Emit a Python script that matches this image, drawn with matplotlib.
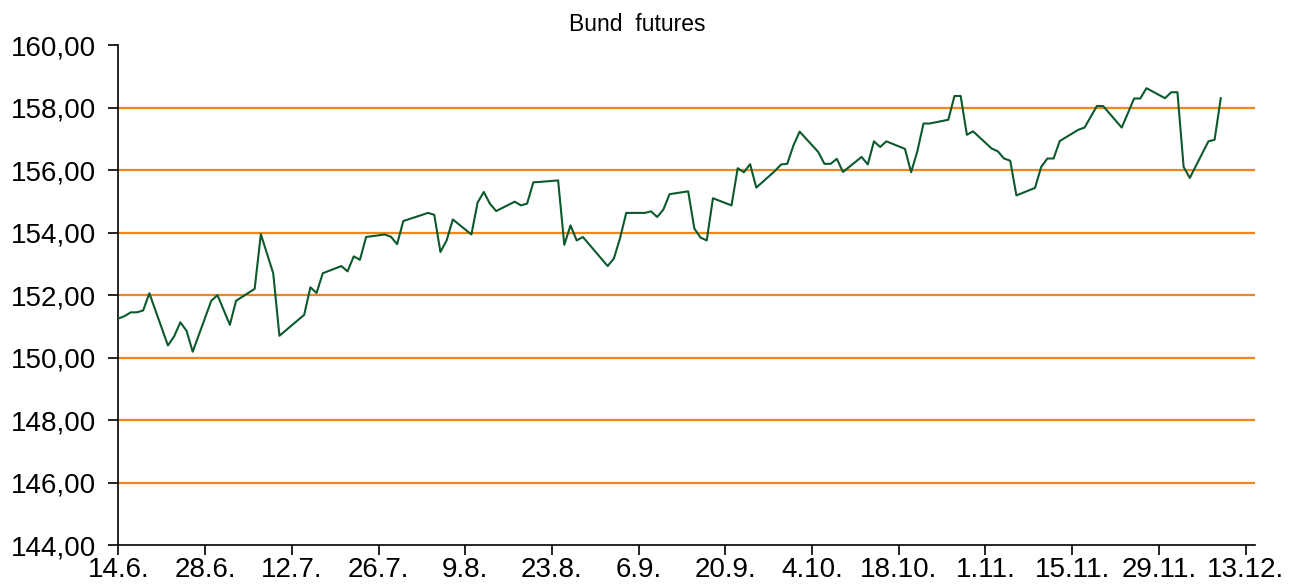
import matplotlib
matplotlib.use('Agg')
import matplotlib.pyplot as plt
import pandas as pd

plt.rcParams['font.family'] = ['Liberation Sans', 'DejaVu Sans']

# bund futures closes
dates = ['2015-06-14', '2015-06-15', '2015-06-16', '2015-06-17', '2015-06-18', '2015-06-19',
         '2015-06-22', '2015-06-23', '2015-06-24', '2015-06-25', '2015-06-26',
         '2015-06-29', '2015-06-30', '2015-07-02', '2015-07-03',
         '2015-07-06', '2015-07-07', '2015-07-09', '2015-07-10',
         '2015-07-14', '2015-07-15', '2015-07-16', '2015-07-17',
         '2015-07-20', '2015-07-21', '2015-07-22', '2015-07-23', '2015-07-24',
         '2015-07-27', '2015-07-28', '2015-07-29', '2015-07-30',
         '2015-08-03', '2015-08-04', '2015-08-05', '2015-08-06', '2015-08-07',
         '2015-08-10', '2015-08-11', '2015-08-12', '2015-08-13', '2015-08-14',
         '2015-08-17', '2015-08-18', '2015-08-19', '2015-08-20', '2015-08-21',
         '2015-08-24', '2015-08-25', '2015-08-26', '2015-08-27', '2015-08-28',
         '2015-09-01', '2015-09-02', '2015-09-03', '2015-09-04',
         '2015-09-07', '2015-09-08', '2015-09-09', '2015-09-10', '2015-09-11',
         '2015-09-14', '2015-09-15', '2015-09-16', '2015-09-17', '2015-09-18',
         '2015-09-21', '2015-09-22', '2015-09-23', '2015-09-24', '2015-09-25',
         '2015-09-28', '2015-09-29', '2015-09-30', '2015-10-01', '2015-10-02',
         '2015-10-05', '2015-10-06', '2015-10-07', '2015-10-08', '2015-10-09',
         '2015-10-12', '2015-10-13', '2015-10-14', '2015-10-15', '2015-10-16',
         '2015-10-19', '2015-10-20', '2015-10-21', '2015-10-22', '2015-10-23',
         '2015-10-26', '2015-10-27', '2015-10-28', '2015-10-29', '2015-10-30',
         '2015-11-02', '2015-11-03', '2015-11-04', '2015-11-05', '2015-11-06',
         '2015-11-09', '2015-11-10', '2015-11-11', '2015-11-12', '2015-11-13',
         '2015-11-16', '2015-11-17', '2015-11-19', '2015-11-20',
         '2015-11-23', '2015-11-24', '2015-11-25', '2015-11-26', '2015-11-27',
         '2015-11-30', '2015-12-01', '2015-12-02', '2015-12-03', '2015-12-04',
         '2015-12-07', '2015-12-08', '2015-12-09']
prices = [151.25, 151.33, 151.45, 151.45, 151.51, 152.06,
          150.39, 150.68, 151.13, 150.86, 150.19,
          151.82, 152.00, 151.05, 151.82,
          152.20, 153.95, 152.70, 150.70,
          151.37, 152.25, 152.07, 152.70,
          152.93, 152.76, 153.24, 153.13, 153.86,
          153.94, 153.87, 153.63, 154.37,
          154.63, 154.57, 153.38, 153.75, 154.42,
          153.94, 154.96, 155.30, 154.92, 154.69,
          154.99, 154.87, 154.93, 155.61, 155.62,
          155.67, 153.61, 154.23, 153.75, 153.86,
          152.93, 153.17, 153.82, 154.63,
          154.63, 154.68, 154.50, 154.74, 155.23,
          155.32, 154.13, 153.84, 153.75, 155.10,
          154.87, 156.06, 155.93, 156.19, 155.44,
          155.97, 156.18, 156.20, 156.79, 157.23,
          156.58, 156.20, 156.20, 156.36, 155.94,
          156.42, 156.18, 156.92, 156.74, 156.92,
          156.68, 155.93, 156.60, 157.49, 157.49,
          157.61, 158.37, 158.37, 157.13, 157.24,
          156.69, 156.60, 156.37, 156.30, 155.19,
          155.43, 156.10, 156.37, 156.37, 156.93,
          157.29, 157.36, 158.05, 158.05,
          157.36, 157.82, 158.29, 158.29, 158.62,
          158.30, 158.49, 158.49, 156.10, 155.75,
          156.92, 156.97, 158.30]

tick_dates = ['2015-06-14', '2015-06-28', '2015-07-12', '2015-07-26', '2015-08-09',
              '2015-08-23', '2015-09-06', '2015-09-20', '2015-10-04', '2015-10-18',
              '2015-11-01', '2015-11-15', '2015-11-29', '2015-12-13']
y_ticks = [144, 146, 148, 150, 152, 154, 156, 158, 160]

x = pd.to_datetime(dates)
xt = pd.to_datetime(tick_dates)

fig = plt.figure(figsize=(13.01, 5.85), dpi=100)
ax = fig.add_axes([0.091, 0.068, 0.874, 0.855])

ax.plot(x, prices, color='#0b5a2c', linewidth=1.5, zorder=3)

ax.set_ylim(144, 160)
ax.set_yticks(y_ticks)
ax.set_yticklabels([f'{v:.2f}'.replace('.', ',') for v in y_ticks])
ax.set_xlim(xt[0], xt[-1] + pd.Timedelta(days=1.6))
ax.set_xticks(xt)
ax.set_xticklabels([f'{d.day}.{d.month}.' for d in xt])

# orange grid, none at the top/bottom edge
ax.yaxis.grid(True, color='#f0861c', linewidth=1.6)
ax.set_axisbelow(True)
gl = ax.get_ygridlines()
gl[0].set_visible(False)
gl[-1].set_visible(False)

for s in ['top', 'right']:
    ax.spines[s].set_visible(False)
for s in ['left', 'bottom']:
    ax.spines[s].set_linewidth(1.2)
ax.tick_params(axis='y', labelsize=20, length=7, width=1.2, pad=9)
ax.tick_params(axis='x', labelsize=20, length=7, width=1.2, pad=1.5)

fig.text(0.49, 0.958, 'Bund  futures', ha='center', va='center', fontsize=16.5)

plt.savefig('out.png', dpi=100)
plt.close()
